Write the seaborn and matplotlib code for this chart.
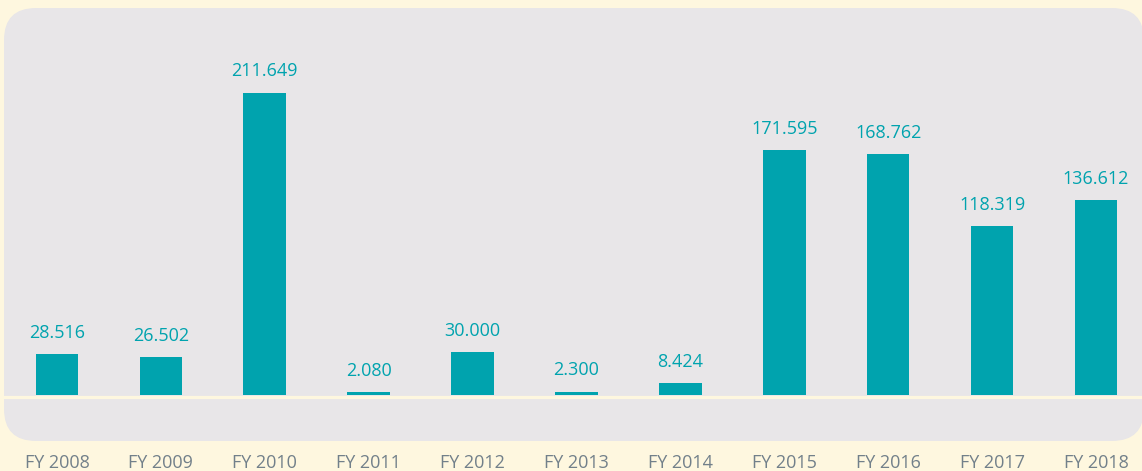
import matplotlib.pyplot as plt
import seaborn as sns
import pandas as pd
from matplotlib.patches import FancyBboxPatch

years = ['FY 2008', 'FY 2009', 'FY 2010', 'FY 2011', 'FY 2012', 'FY 2013',
         'FY 2014', 'FY 2015', 'FY 2016', 'FY 2017', 'FY 2018']
values = [28.516, 26.502, 211.649, 2.080, 30.000, 2.300, 8.424,
          171.595, 168.762, 118.319, 136.612]

df = pd.DataFrame({'year': years, 'value': values})

sns.set_style('white')
plt.rcParams['font.family'] = ['Open Sans', 'DejaVu Sans']

teal = '#00a3ae'
cream = '#fef7df'
panel = '#e8e6e8'

W, H = 1142, 471
fig = plt.figure(figsize=(W / 100, H / 100), dpi=100)
fig.patch.set_facecolor(cream)

# rounded grey panel behind the plot
fig.patches.append(FancyBboxPatch((4 / W, 1 - 441 / H), (1144 - 4) / W, (441 - 8) / H,
                                  boxstyle=f'round,pad=0,rounding_size={32 / W}',
                                  mutation_aspect=W / H,
                                  transform=fig.transFigure, facecolor=panel,
                                  edgecolor='none', zorder=-5))

ax = fig.add_axes([4 / W, 1 - 441 / H, (1142 - 4) / W, (441 - 8) / H])
ax.set_facecolor('none')
ax.set_zorder(1)

sns.barplot(data=df, x='year', y='value', color=teal, width=0.41,
            saturation=1, linewidth=0, edgecolor='none', ax=ax, zorder=2)

ax.set_xlim(-0.51, 10.443)
ax.set_ylim(-32.2, 271.2)
ax.axhline(-1.05, color=cream, lw=2.3, zorder=3)

for i, v in enumerate(values):
    ax.annotate(f'{v:.3f}', (i, v), xytext=(0, 9), textcoords='offset points',
                ha='center', va='bottom', color=teal, fontsize=13)

ax.set_xlabel('')
ax.set_ylabel('')
ax.set_yticks([])
ax.tick_params(axis='x', length=0, pad=9, labelsize=13, labelcolor='#72808a')
sns.despine(ax=ax, left=True, bottom=True)

fig.savefig('out.png', dpi=100, facecolor=cream)
